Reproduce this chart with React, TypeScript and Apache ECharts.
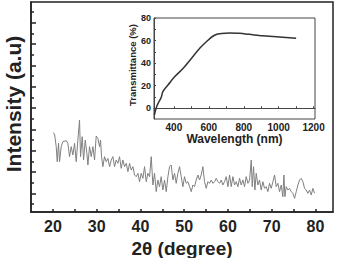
import React, { useEffect, useRef } from "react";
import * as echarts from "echarts";

// Main XRD pattern
const twoTheta = [
  20.0, 20.38, 20.76, 20.99, 21.29, 21.52, 21.9, 22.28, 23.05, 23.43,
  23.81, 24.19, 24.57, 24.95, 25.33, 25.71, 26.09, 26.32, 26.7, 27.01,
  27.39, 27.77, 28.0, 28.38, 28.76, 29.14, 29.52, 29.9, 30.28, 30.66,
  30.89, 31.12, 31.42, 31.8, 32.19, 32.57, 32.95, 33.33, 33.71, 34.09,
  34.47, 34.85, 35.23, 35.61, 35.99, 36.37, 36.76, 37.14, 37.52, 37.9,
  38.28, 38.66, 39.04, 39.42, 39.8, 40.18, 40.56, 40.94, 41.33, 41.71,
  42.09, 42.47, 42.85, 43.23, 43.61, 43.99, 44.37, 44.75, 45.13, 45.51,
  45.9, 46.28, 46.66, 47.04, 47.42, 47.8, 48.18, 48.56, 48.94, 49.32,
  49.7, 50.08, 50.46, 50.85, 51.23, 51.61, 51.99, 52.37, 52.75, 53.13,
  53.51, 53.89, 54.27, 54.65, 55.03, 55.42, 55.8, 56.18, 56.56, 56.94,
  57.32, 57.7, 58.08, 58.46, 58.84, 59.22, 59.6, 59.99, 60.37, 60.75,
  61.13, 61.51, 61.89, 62.27, 62.65, 63.03, 63.41, 63.79, 64.17, 64.56,
  64.94, 65.32, 65.54, 65.85, 66.15, 66.46, 66.84, 67.22, 67.6, 67.98,
  68.36, 68.74, 69.12, 69.5, 69.89, 70.27, 70.65, 71.03, 71.41, 71.79,
  72.17, 72.55, 72.78, 73.01, 73.31, 73.69, 74.07, 74.45, 74.84, 75.22,
  75.6, 75.98, 76.36, 76.74, 77.12, 77.5, 77.88, 78.26, 78.64, 79.03,
  79.41, 79.79,
];
const intensity = [
  238, 234, 196, 151, 206, 151, 196, 211, 214, 206,
  166, 196, 171, 206, 151, 216, 276, 166, 226, 156,
  216, 176, 141, 196, 166, 196, 156, 228, 221, 196,
  216, 166, 136, 166, 151, 161, 136, 156, 166, 136,
  156, 146, 166, 131, 156, 136, 146, 121, 146, 126,
  136, 111, 106, 116, 91, 116, 101, 136, 91, 116,
  106, 166, 81, 116, 61, 96, 76, 106, 66, 96,
  61, 106, 136, 141, 96, 116, 86, 116, 136, 106,
  76, 106, 86, 91, 76, 61, 81, 76, 96, 111,
  96, 111, 136, 91, 71, 91, 86, 96, 86, 91,
  101, 91, 86, 96, 81, 91, 106, 76, 111, 76,
  106, 81, 91, 76, 101, 81, 96, 76, 106, 86,
  96, 156, 76, 136, 66, 116, 81, 96, 66, 91,
  71, 76, 61, 86, 71, 91, 111, 76, 86, 61,
  81, 46, 111, 46, 76, 66, 71, 61, 56, 41,
  61, 81, 96, 101, 91, 71, 66, 56, 66, 51,
  71, 56,
];

// Inset transmittance spectrum
const wavelength = [
  288, 300, 315, 328, 337, 366, 404, 452, 500, 547,
  595, 633, 671, 719, 775, 833, 890, 947, 1023, 1100,
];
const transmittance = [
  -6, 1, 6, 10, 14.7, 20.6, 27.9, 35.3, 44.2, 53,
  60.3, 64.7, 66.2, 66.8, 66.4, 65.5, 64.6, 63.8, 63, 62.1,
];

const mainXLabels = [20, 30, 40, 50, 60, 70, 80];
const mainXTicks = [20, 25, 30, 35, 40, 45, 50, 55, 60, 65, 70, 75, 80];
const mainYMajor = [56, 120, 184, 248, 312, 376, 440, 504, 568];
const mainYMinor = [24, 88, 152, 216, 280, 344, 408, 472, 536, 600];
const insetXLabels = [400, 600, 800, 1000, 1200];
const insetXTicks = [300, 400, 500, 600, 700, 800, 900, 1000, 1100, 1200];
const insetYLabels = [0, 20, 40, 60, 80];
const insetYTicks = [0, 10, 20, 30, 40, 50, 60, 70, 80];

const FONT = "Liberation Sans, Arial, sans-serif";
const INK = "#222";

export default function App() {
  const ref = useRef<HTMLDivElement>(null);

  useEffect(() => {
    if (!ref.current) return;
    const chart = echarts.init(ref.current, undefined, { renderer: "svg" });
    const mainData = twoTheta.map((x, i) => [x, intensity[i]]);
    const insetData = wavelength.map((x, i) => [x, transmittance[i]]);

    chart.setOption({
      animation: false,
      backgroundColor: "#fff",
      textStyle: { fontFamily: FONT },
      grid: [
        {
          left: 31, top: 2, width: 302, height: 210,
          outerBoundsMode: "none",
          show: true, borderColor: INK, borderWidth: 1.5,
        },
        {
          left: 154, top: 18, width: 161, height: 101,
          outerBoundsMode: "none",
          show: true, borderColor: "#444", borderWidth: 1, backgroundColor: "#fff",
        },
      ],
      xAxis: [
        {
          gridIndex: 0, type: "value", min: 15, max: 84,
          axisLine: { show: true, lineStyle: { color: INK, width: 1.5 } },
          axisTick: { show: true, inside: true, length: 3, customValues: mainXTicks, lineStyle: { color: INK, width: 1.5 } },
          axisLabel: {
            customValues: mainXLabels, fontSize: 16, fontWeight: "bold",
            color: INK, margin: 6, fontFamily: FONT,
            formatter: (v: number) => String(v),
          },
          splitLine: { show: false },
          name: "2θ (degree)",
          nameLocation: "middle",
          nameGap: 25,
          nameTextStyle: { fontSize: 19, fontWeight: "bold", color: INK, fontFamily: FONT },
        },
        {
          gridIndex: 1, type: "value", min: 286, max: 1208,
          axisLine: { show: true, lineStyle: { color: "#444", width: 1 } },
          axisTick: { show: true, inside: true, length: 2, customValues: insetXTicks, lineStyle: { color: "#444" } },
          axisLabel: {
            customValues: insetXLabels, fontSize: 10, fontWeight: "bold",
            color: INK, margin: 3, fontFamily: FONT,
            formatter: (v: number) => String(v),
          },
          splitLine: { show: false },
          name: "Wavelength (nm)",
          nameLocation: "middle",
          nameGap: 10,
          nameTextStyle: { fontSize: 12, fontWeight: "bold", color: INK, fontFamily: FONT },
        },
      ],
      yAxis: [
        {
          gridIndex: 0, type: "value", min: 0, max: 630,
          axisLine: { show: true, lineStyle: { color: INK, width: 1.5 } },
          axisTick: { show: true, inside: true, length: 5, customValues: mainYMajor, lineStyle: { color: INK, width: 1.5 } },
          axisLabel: { show: false },
          splitLine: { show: false },
        },
        {
          gridIndex: 0, type: "value", min: 0, max: 630, position: "left",
          axisLine: { show: false },
          axisTick: { show: true, inside: true, length: 3, customValues: mainYMinor, lineStyle: { color: INK, width: 1.5 } },
          axisLabel: { show: false },
          splitLine: { show: false },
        },
        {
          gridIndex: 1, type: "value", min: -9.5, max: 80,
          axisLine: { show: true, lineStyle: { color: "#444", width: 1 } },
          axisTick: { show: true, inside: true, length: 2, customValues: insetYTicks, lineStyle: { color: "#444" } },
          axisLabel: {
            customValues: insetYLabels, fontSize: 9, fontWeight: "bold",
            color: INK, margin: 3, fontFamily: FONT,
            formatter: (v: number) => String(v),
          },
          splitLine: { show: false },
        },
      ],
      series: [
        {
          type: "line", xAxisIndex: 0, yAxisIndex: 0, data: mainData,
          showSymbol: false, lineStyle: { color: "#808080", width: 1 },
        },
        {
          type: "line", xAxisIndex: 1, yAxisIndex: 2, data: insetData,
          smooth: true, showSymbol: false, lineStyle: { color: "#333", width: 1.5 },
        },
      ],
      graphic: [
        {
          type: "text", x: 13, y: 104, rotation: Math.PI / 2,
          style: {
            text: "Intensity (a.u)", fontSize: 21, fontWeight: "bold",
            fontFamily: FONT, fill: INK, align: "center", verticalAlign: "middle",
          },
        },
        {
          type: "text", x: 132, y: 65, rotation: Math.PI / 2,
          style: {
            text: "Transmittance (%)", fontSize: 9.5, fontWeight: "bold",
            fontFamily: FONT, fill: INK, align: "center", verticalAlign: "middle",
          },
        },
      ],
    });
    return () => chart.dispose();
  }, []);

  return (
    <div
      ref={ref}
      style={{ position: "absolute", left: 0, top: 0, width: 343, height: 258 }}
    />
  );
}
